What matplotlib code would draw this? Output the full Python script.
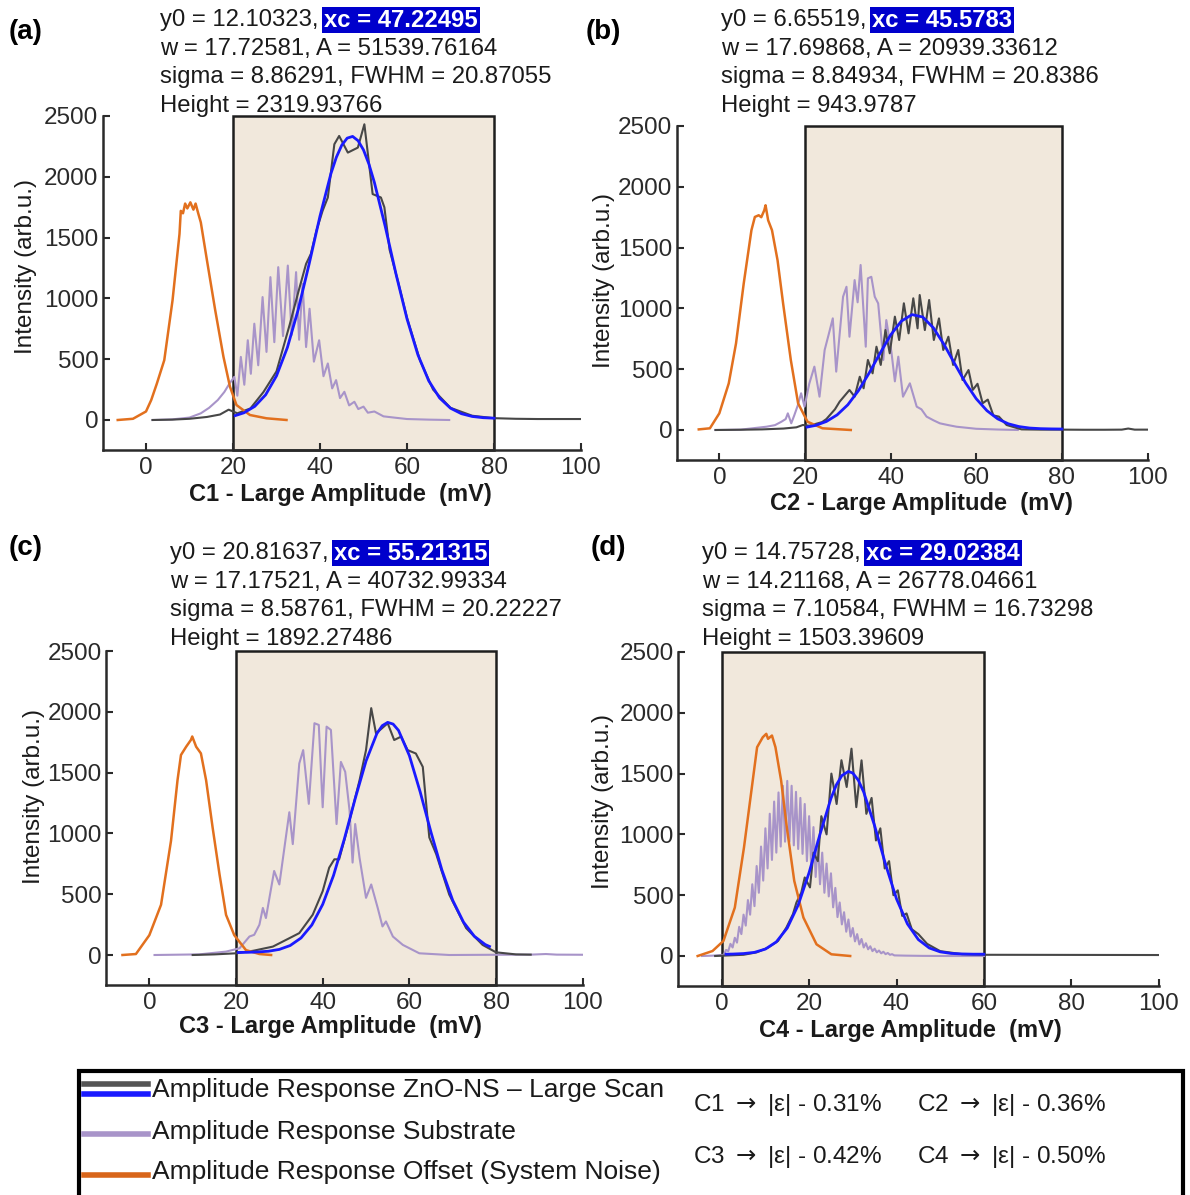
import matplotlib
matplotlib.use('Agg')
from matplotlib import pyplot as plt
from matplotlib.patches import Rectangle

W, H = 1190, 1195
plt.rcParams['font.family'] = ['Liberation Sans', 'DejaVu Sans']

# ---------------- data ----------------
# (a) C1
orange_a_x = [-6.5, -3, 0, 1.2, 2.5, 4.2, 6.1, 7.7, 8.0, 8.5, 9.0, 9.5, 10.2, 10.9, 11.4, 12.0, 12.6,
              14.0, 15.9, 17.8, 19.3, 20.8, 23.9, 27.7, 32.3]
orange_a_y = [0, 10, 70, 164, 300, 492, 984, 1530, 1720, 1700, 1780, 1740, 1790, 1730, 1780, 1700, 1625,
              1316, 905, 521, 274, 123, 41, 14, 0]
purple_a_x = [1.5, 6, 10, 12.6, 14.5, 16.5, 18, 19.2,
              20.3, 21.0, 21.8, 22.6, 23.4, 24.1, 24.9, 25.8, 26.8, 27.7, 28.6, 29.5, 30.4, 31.5,
              32.6, 33.5, 34.5, 35.2, 36.0, 36.8, 37.6, 38.6, 39.8, 40.8, 41.8, 42.8, 43.7, 44.6,
              45.6, 46.7, 47.9, 48.8,
              50, 51, 52.5, 54.6, 57, 60, 65, 69.7]
purple_a_y = [0, 5, 20, 55, 100, 164, 230, 300,
              355, 200, 519, 290, 656, 380, 792, 450, 1011, 560, 1175, 640, 1257, 690,
              1270, 700, 1216, 660, 1120, 600, 915, 480, 656, 360, 465, 260, 328, 180,
              232, 120, 150, 90,
              110, 60, 70, 30, 20, 8, 3, 0]
black_a_x = [1.5, 6, 10, 14, 17, 19, 20, 21, 24, 27, 30, 33, 35, 36.8, 37.9, 39.2, 40.6, 41.8, 43.3,
             44.4, 46.4, 48.7, 50.2, 52.1, 54.0, 54.8, 56, 58, 60, 63, 66, 70, 75, 80, 85, 90, 95, 100]
black_a_y = [0, 3, 10, 25, 45, 85, 70, 55, 95, 230, 400, 780, 1050, 1284, 1366, 1560, 1721, 1830, 2268,
             2336, 2199, 2240, 2432, 1858, 1830, 1749, 1400, 1130, 840, 490, 250, 100, 35, 15, 10, 8, 8, 8]
blue_a_x = [20.5, 22.5, 25, 27.5, 30, 32.5, 35, 37.5, 40, 42.5, 43.75, 45, 46.25, 47.5, 48.75, 50,
            51.25, 52.5, 55, 57.5, 60, 62.5, 65, 67.5, 70, 72.5, 75, 77.5, 80]
blue_a_y = [36, 59, 112, 207, 363, 596, 909, 1283, 1677, 2025, 2160, 2260, 2318, 2332, 2297, 2221,
            2104, 1954, 1591, 1196, 832, 537, 322, 181, 97, 52, 29, 19, 15]

# (b) C2
orange_b_x = [-4.8, -2.2, 0, 2.2, 3.9, 5.7, 7.5, 8.3, 9.2, 9.8, 10.5, 10.8, 11.4, 12.3, 13.6, 14.9,
              16.7, 18.4, 20.6, 24.1, 30.7]
orange_b_y = [5, 14, 137, 383, 712, 1205, 1643, 1752, 1766, 1750, 1807, 1848, 1725, 1643, 1396, 1040,
              575, 219, 68, 14, 0]
purple_b_x = [-0.9, 5, 11, 13, 14.5, 15.5, 16.0, 16.8, 17.5, 18.3, 19.1, 19.9, 21.0, 22.2, 23.4, 24.6,
              25.5, 26.5, 27.3, 28.9, 29.7, 30.4, 31.6, 32.3, 33.0, 34.2, 34.7, 35.5, 36.3, 37.1,
              38.3, 39.0, 40.2, 41.0, 41.8, 42.9, 44.5, 46.1, 47.2, 48.4, 50, 51.5, 53.5, 55.4, 60,
              65, 69.7]
purple_b_y = [0, 3, 27, 40, 68, 90, 137, 55, 120, 200, 302, 192, 380, 521, 274, 658,
              780, 918, 480, 1096, 1178, 767, 1233, 1050, 1357, 685, 1247, 1260, 1096, 1041,
              576, 904, 640, 400, 603, 274, 384, 192, 170, 110, 80, 55, 40, 27, 10,
              4, 0]
black_b_x = [-0.9, 5, 10, 15, 18, 19.5, 21, 22.5, 24, 25, 26, 27, 28.1, 30.4, 31.6, 32.8, 33.7, 34.7,
             35.8, 36.7, 37.7, 38.8, 39.8, 41.0, 42.0, 43.1, 44.2, 45.3, 46.3, 46.8, 48.0, 49.0, 50.1,
             51.3, 52.3, 53.5, 54.6, 55.8, 56.8, 58.2, 59.2, 60.3, 61.5, 62.7, 64.0, 65.3, 67.1,
             70.6, 75, 80, 85, 90, 94, 95.5, 97, 100]
black_b_y = [0, 2, 5, 12, 22, 41, 35, 50, 65, 90, 130, 170, 233, 329, 274, 438, 343, 576,
             466, 685, 535, 822, 631, 932, 740, 1042, 795, 1083, 836, 1110, 822, 1069, 740,
             918, 658, 767, 535, 658, 411, 493, 330, 380, 220, 250, 120, 110, 41,
             5, 3, 3, 2, 2, 3, 12, 3, 3]
blue_b_x = [20.5, 22.5, 25, 27.5, 30, 32.5, 35, 37.5, 40, 42.5, 45, 47.5, 50, 52.5, 55, 57.5, 60,
            62.5, 65, 67.5, 70, 72.5, 75, 77.5, 80]
blue_b_y = [24, 38, 70, 124, 207, 324, 469, 629, 781, 895, 949, 929, 840, 702, 543, 388, 257,
            159, 92, 51, 28, 16, 11, 9, 8]

# (c) C3
orange_c_x = [-6.2, -3.1, 0, 2.7, 5.0, 6.5, 7.3, 8.5, 9.6, 9.9, 10.8, 11.9, 13.1, 14.6, 16.2, 17.7,
              19.6, 22.3, 25.4, 28.1]
orange_c_y = [0, 8, 163, 413, 939, 1437, 1645, 1713, 1769, 1797, 1713, 1658, 1437, 1049, 662, 330,
              163, 40, 8, 0]
purple_c_x = [1.2, 11.5, 17.7, 20.8, 23.1, 24.2, 25.4, 26.2, 26.9, 28.8, 30.0, 32.3, 33.1, 34.6, 35.5,
              36.8, 38.1, 39.1, 40.0, 40.9, 41.9, 43.2, 44.2, 45.2, 46.2, 46.9, 47.5, 48.5, 50.0,
              51.2, 52.7, 53.8, 54.6, 56.2, 58.5, 62.3, 69.2, 80, 88, 91.5, 94, 100]
purple_c_y = [0, 5, 28, 55, 152, 166, 249, 387, 304, 691, 580, 1174, 912, 1575, 1685,
              1243, 1906, 1892, 1215, 1878, 1851, 1077, 1588, 1506, 1188, 760, 1077, 801, 470,
              580, 387, 235, 276, 152, 83, 14, 0, 2, 3, 8, 3, 2]
black_c_x = [10, 15, 20, 24, 28.5, 32.3, 34.6, 37.7, 40.0, 41.5, 42.7, 43.8, 45.8, 48.5, 50.0, 51.2,
             52.3, 53.7, 55.0, 56.5, 58.1, 59.6, 61.5, 63.1, 64.6, 66.2, 69.2, 73.1, 76.9, 80, 84.6, 88]
black_c_y = [0, 5, 14, 35, 69, 138, 180, 331, 525, 718, 787, 787, 1050, 1436, 1685, 2030,
             1823, 1865, 1906, 1768, 1796, 1685, 1657, 1547, 967, 829, 497, 221, 83, 22, 5, 3]
blue_c_x = [20.5, 22.5, 25, 27.5, 30, 32.5, 35, 37.5, 40, 42.5, 45, 47.5, 50, 52.5, 53.75, 55, 56.25,
            57.5, 60, 62.5, 65, 67.5, 70, 72.5, 75, 77.5, 78.5]
blue_c_y = [21, 22, 25, 31, 46, 78, 140, 247, 416, 654, 954, 1286, 1595, 1821, 1886, 1913, 1899,
            1847, 1640, 1341, 1009, 700, 450, 270, 154, 86, 70]

# (d) C4
orange_d_x = [-5.5, -2.1, 0.4, 3.0, 5.1, 6.8, 8.1, 9.4, 10.2, 10.6, 11.5, 12.3, 13.6, 14.9, 16.6, 18.7,
              21.7, 25.1, 29.4]
orange_d_y = [0, 41, 124, 398, 893, 1360, 1717, 1799, 1827, 1786, 1813, 1717, 1442, 1058, 618, 316,
              96, 14, 0]
purple_d_x = [-4.5, -2, 0, 0.5,
              1.0, 1.5, 2.0, 2.5, 3.0, 3.5, 4.0, 4.5, 5.0, 5.5, 6.0, 6.5, 7.0, 7.5, 8.0, 8.5,
              9.0, 9.5, 10.0, 10.5, 11.0, 11.5, 12.0, 12.5, 13.0, 13.5, 14.0, 14.5, 15.0, 15.5,
              16.0, 16.5, 17.0, 17.5, 18.0, 18.5, 19.0, 19.5, 20.0, 20.5, 21.0, 21.5, 22.0, 22.5,
              23.0, 23.5, 24.0, 24.5, 25.0, 25.5, 26.0, 26.5, 27.0, 27.5, 28.0, 28.5, 29.0, 29.5,
              30.0, 30.5, 31.0, 31.5, 32.0, 32.5, 33.0, 33.5, 34.0, 34.5, 35.0, 35.5, 36.0, 36.5,
              37.0, 37.5, 38.0, 38.5, 39.0, 39.5,
              42, 46, 52, 60]
purple_d_y = [0, 3, 8, 10,
              50, 40, 100, 70, 150, 110, 240, 180, 340, 250, 460, 340, 590, 410, 740, 520,
              900, 620, 1050, 720, 1170, 790, 1270, 850, 1345, 900, 1400, 940, 1440, 940,
              1400, 910, 1350, 880, 1300, 840, 1250, 780, 1150, 720, 1060, 650, 950, 590,
              850, 520, 760, 490, 680, 400, 560, 320, 440, 260, 360, 200, 300, 160,
              230, 120, 180, 95, 140, 70, 105, 55, 80, 40, 60, 30, 45, 22,
              35, 15, 25, 10, 15, 5,
              3, 1, 0, 0]
black_d_x = [-1.5, 5, 8, 10.6, 12.9, 14.8, 16.3, 17.1, 18.2, 19.0, 20.2, 21.0, 22.0, 22.8, 24.0, 25.1,
             26.3, 27.4, 28.6, 29.7, 30.8, 32.0, 33.1, 34.3, 35.3, 36.3, 37.3, 38.3, 39.3, 40.3,
             41.3, 42.3, 43.5, 45, 47, 50, 55, 60, 100]
black_d_y = [0, 10, 30, 69, 124, 234, 344, 440, 520, 646, 564, 850, 780, 1150, 1000, 1500,
             1250, 1610, 1390, 1705, 1224, 1609, 1169, 1300, 950, 1050, 720, 780, 500, 540,
             330, 350, 220, 180, 100, 40, 15, 10, 8]
blue_d_x = [1, 2.5, 5, 7.5, 10, 12.5, 15, 17.5, 20, 22.5, 25, 26.25, 27.5, 29, 30, 31.25, 32.5, 35,
            37.5, 40, 42.5, 45, 47.5, 50, 52.5, 55, 57.5, 60]
blue_d_y = [15, 16, 20, 30, 57, 116, 230, 419, 686, 1002, 1296, 1408, 1484, 1518, 1504, 1446, 1348,
            1070, 753, 470, 264, 135, 66, 34, 21, 17, 15, 15]

fit_text = {
    'a': ['y0 = 12.10323,', 'xc = 47.22495', 'w = 17.72581, A = 51539.76164',
          'sigma = 8.86291, FWHM = 20.87055', 'Height = 2319.93766'],
    'b': ['y0 = 6.65519,', 'xc = 45.5783', 'w = 17.69868, A = 20939.33612',
          'sigma = 8.84934, FWHM = 20.8386', 'Height = 943.9787'],
    'c': ['y0 = 20.81637,', 'xc = 55.21315', 'w = 17.17521, A = 40732.99334',
          'sigma = 8.58761, FWHM = 20.22227', 'Height = 1892.27486'],
    'd': ['y0 = 14.75728,', 'xc = 29.02384', 'w = 14.21168, A = 26778.04661',
          'sigma = 7.10584, FWHM = 16.73298', 'Height = 1503.39609'],
}
strain_text = ['C1 $\\rightarrow$ |\u03b5| - 0.31%', 'C2 $\\rightarrow$ |\u03b5| - 0.36%',
               'C3 $\\rightarrow$ |\u03b5| - 0.42%', 'C4 $\\rightarrow$ |\u03b5| - 0.50%']
legend_text = ['Amplitude Response ZnO-NS \u2013 Large Scan', 'Amplitude Response Substrate',
               'Amplitude Response Offset (System Noise)']

# ---------------- styling ----------------
C_BLACK = '#474747'
C_BLUE = '#1a1aff'
C_PURPLE = '#a894c9'
C_ORANGE = '#e2701e'
C_BOX = '#f1e8dc'

fig = plt.figure(figsize=(W / 100, H / 100), dpi=100)

# overlay axes in pixel coordinates for the figure-level texts and the legend
ov = fig.add_axes([0, 0, 1, 1], zorder=5)
ov.set_xlim(0, W)
ov.set_ylim(H, 0)
ov.axis('off')


def add_panel(left, right, top, bottom, box, orange, purple, black, blue):
    ax = fig.add_axes([left / W, 1 - bottom / H, (right - left) / W, (bottom - top) / H])
    ax.set_xlim(-10, 100)
    ax.set_ylim(-250, 2500)
    ax.add_patch(Rectangle((box[0], -250), box[1] - box[0], 2750, facecolor=C_BOX,
                           edgecolor='#1e1e1e', lw=1.8, zorder=1, clip_on=False))
    ax.plot(*purple, color=C_PURPLE, lw=1.5, zorder=2)
    ax.plot(*black, color=C_BLACK, lw=1.5, zorder=3)
    ax.plot(*orange, color=C_ORANGE, lw=1.8, zorder=3)
    ax.plot(*blue, color=C_BLUE, lw=2.0, zorder=4)
    ax.set_xticks([0, 20, 40, 60, 80, 100])
    ax.set_yticks([0, 500, 1000, 1500, 2000, 2500])
    for s in ['top', 'right']:
        ax.spines[s].set_visible(False)
    for s in ['left', 'bottom']:
        ax.spines[s].set_linewidth(1.8)
        ax.spines[s].set_color('#2a2a2a')
    ax.tick_params(direction='in', length=5, width=1.5, labelsize=17.5, colors='#2a2a2a')
    ax.tick_params(axis='x', pad=5)
    ax.tick_params(axis='y', pad=3)
    ax.patch.set_alpha(0)
    return ax


add_panel(102.5, 581, 116, 450.4, (20, 80), (orange_a_x, orange_a_y), (purple_a_x, purple_a_y),
          (black_a_x, black_a_y), (blue_a_x, blue_a_y))
add_panel(676.5, 1147.5, 126, 460.4, (20, 80), (orange_b_x, orange_b_y), (purple_b_x, purple_b_y),
          (black_b_x, black_b_y), (blue_b_x, blue_b_y))
add_panel(106, 582.7, 651, 985.4, (20, 80), (orange_c_x, orange_c_y), (purple_c_x, purple_c_y),
          (black_c_x, black_c_y), (blue_c_x, blue_c_y))
add_panel(678, 1158.7, 652, 986.4, (0, 60), (orange_d_x, orange_d_y), (purple_d_x, purple_d_y),
          (black_d_x, black_d_y), (blue_d_x, blue_d_y))

# panel letters, fit results, axis labels (pixel positions)
layout = {
    'a': dict(lab=(9, 32), txt=(160, 20), xl=(340, 494), yl=(26, 266), n='C1'),
    'b': dict(lab=(586, 32), txt=(721, 20), xl=(921, 503), yl=(604, 280), n='C2'),
    'c': dict(lab=(9, 548), txt=(170, 553), xl=(330, 1027), yl=(34, 796), n='C3'),
    'd': dict(lab=(591, 548), txt=(702, 553), xl=(910, 1030), yl=(603, 801), n='C4'),
}
FS = 17.2
for key, L in layout.items():
    ov.text(*L['lab'], '(%s)' % key, fontsize=20, fontweight='bold', ha='left', va='center')
    tx, ty = L['txt']
    lines = fit_text[key]
    t1 = ov.text(tx, ty, lines[0], fontsize=FS, ha='left', va='center', color='#1a1a1a')
    ov.annotate(lines[1], xy=(1, 0.5), xycoords=t1, xytext=(4, 0), textcoords='offset points',
                ha='left', va='center', fontsize=FS, fontweight='bold', color='white',
                bbox=dict(boxstyle='square,pad=0.08', fc='#0000cc', ec='none'))
    for i, s in enumerate(lines[2:]):
        ov.text(tx, ty + 28.5 * (i + 1), s, fontsize=FS, ha='left', va='center', color='#1a1a1a')
    ov.text(*L['xl'], '%s - Large Amplitude  (mV)' % L['n'], fontsize=17, fontweight='bold',
            ha='center', va='center', color='#1a1a1a')
    ov.text(*L['yl'], 'Intensity (arb.u.)', fontsize=17.5, rotation=90, ha='center', va='center',
            color='#1a1a1a')

# legend box
ov.add_patch(Rectangle((79, 1071), 1104, 140, facecolor='white', edgecolor='black', lw=3))
ov.plot([84, 148], [1084, 1084], color='#555555', lw=4)
ov.plot([84, 148], [1094, 1094], color=C_BLUE, lw=4)
ov.plot([84, 148], [1134, 1134], color=C_PURPLE, lw=4)
ov.plot([84, 148], [1175, 1175], color='#d8651a', lw=4)
for s, yy in zip(legend_text, [1090, 1132, 1172]):
    ov.text(152, yy, s, fontsize=19, ha='left', va='center', color='#1a1a1a')
for s, (xx, yy) in zip(strain_text, [(693, 1105), (917, 1105), (693, 1157), (917, 1157)]):
    ov.text(xx, yy, s, fontsize=17.5, ha='left', va='center', color='#1a1a1a')

fig.savefig('out.png', dpi=100)
